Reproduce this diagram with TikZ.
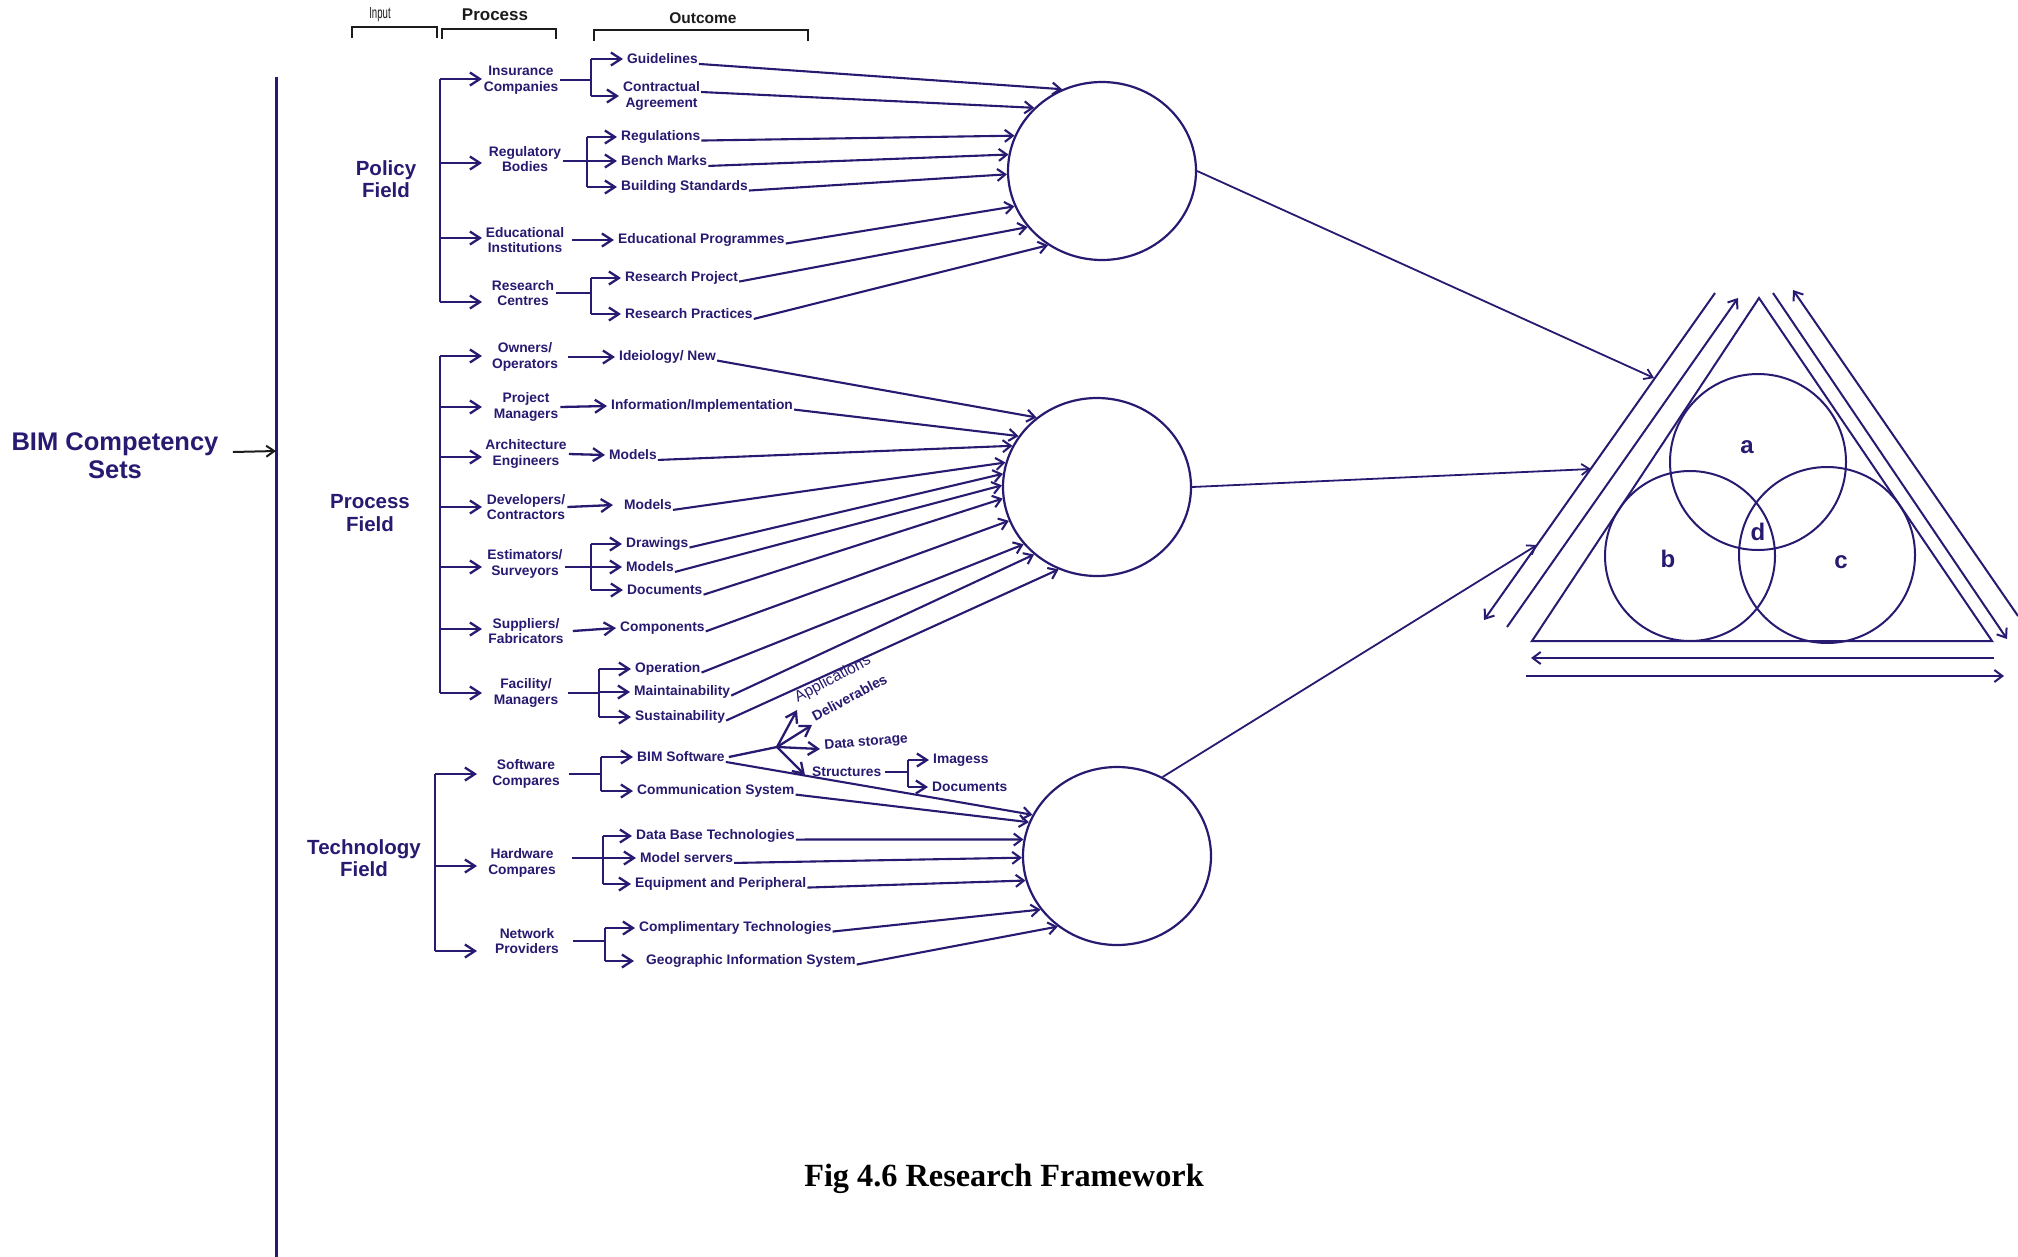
\documentclass[tikz,border=0pt]{standalone}
\usepackage{fontspec}
\setmainfont{Liberation Sans}
\newfontfamily\capfont{Liberation Serif}
\usetikzlibrary{arrows.meta,shapes.geometric,calc}
\definecolor{ink}{RGB}{40,26,112}
\definecolor{hdr}{RGB}{28,28,28}
\tikzset{
  lbl/.style={text=ink, font=\bfseries\fontsize{13.8}{15.5}\selectfont, align=center, inner xsep=2pt, inner ysep=1pt},
  outc/.style={lbl, anchor=west, inner xsep=4pt},
  field/.style={text=ink, font=\bfseries\fontsize{20.5}{22.5}\selectfont, align=center},
  wire/.style={draw=ink, line width=2.3pt},
  trunk/.style={draw=ink, line width=2.8pt},
  fwd/.style={wire, -{Straight Barb[length=10pt,width=13pt]}},
  feed/.style={draw=ink, line width=2.1pt, -{Straight Barb[length=8pt,width=12pt]}},
  hub/.style={ellipse, draw=ink, line width=2.2pt, minimum width=188pt, minimum height=178pt, inner sep=0pt},
  fine/.style={draw=ink, line width=2pt},
  finearr/.style={fine, -{Straight Barb[length=8pt,width=12pt]}},
  inarr/.style={draw=ink, line width=1.8pt, -{Straight Barb[length=8pt,width=11pt]}},
  bracket/.style={draw=hdr, line width=2pt},
  letter/.style={text=ink, font=\bfseries\fontsize{24}{24}\selectfont, inner sep=0pt},
  venn/.style={circle, draw=ink, line width=2pt, inner sep=0pt},
}
\begin{document}
\begin{tikzpicture}[x=1pt,y=-1pt]
\fill[white] (0,0) rectangle (2018,1256);
\useasboundingbox (0,0) rectangle (2018,1256);

% column headers
\node[text=hdr, font=\fontsize{16}{16}\selectfont, inner sep=0pt] (hIn) at (380,15) {\scalebox{0.6}[1]{Input}};
\node[text=hdr, font=\bfseries\fontsize{17}{17}\selectfont, inner sep=0pt] (hPr) at (495,15) {Process};
\node[text=hdr, font=\bfseries\fontsize{15.5}{15.5}\selectfont, inner sep=0pt] (hOut) at (703,18) {Outcome};
\draw[bracket] (352,38) -- (352,27) -- (437,27) -- (437,38);
\draw[bracket] (442,39) -- (442,29) -- (556,29) -- (556,39);
\draw[bracket] (594,41) -- (594,30) -- (808,30) -- (808,41);

% competency sets and spine
\node[text=ink, font=\bfseries\fontsize{25.5}{28}\selectfont, align=center] (bimset) at (115,456) {BIM Competency\\Sets};
\coordinate (sTop) at (276,77);
\coordinate (sBot) at (276,1262);
\coordinate (sIn) at (276,451);
\draw[draw=ink, line width=3pt] (sTop) -- (sBot);
\draw[draw=hdr, line width=2pt, -{Straight Barb[length=8pt,width=11pt]}] ([shift={(11,-4)}]bimset.east) -- (sIn);

% field labels
\node[field] (pol) at (386,179) {Policy\\Field};
\node[field] (prc) at (370,513) {Process\\Field};
\node[field] (tec) at (364,858) {Technology\\Field};

% hubs
\node[hub] (C1) at (1102,171) {};
\node[hub] (C2) at (1097,487) {};
\node[hub] (C3) at (1117,856) {};

%% ---------------- Policy field ----------------
\coordinate (pA) at (440,79);
\coordinate (pB) at (440,302);
\draw[trunk] (pA) -- (pB);
\node[lbl] (ins) at (521,80) {Insurance\\Companies};
\node[lbl] (reg) at (525,159) {Regulatory\\Bodies};
\node[lbl] (edu) at (525,240) {Educational\\Institutions};
\node[lbl] (rce) at (523,293) {Research\\Centres};
\draw[fwd] (440,79) -- ++(42,0);
\draw[fwd] (440,163) -- ++(42,0);
\draw[fwd] (440,238) -- ++(42,0);
\draw[fwd] (440,302) -- ++(42,0);

\node[outc] (gui) at (623,59) {Guidelines};
\node[outc] (con) at (619,96) {Contractual\\Agreement};
\node[outc] (regu) at (617,137) {Regulations};
\node[outc] (bench) at (617,161) {Bench Marks};
\node[outc] (build) at (617,187) {Building Standards};
\node[outc] (edp) at (614,240) {Educational Programmes};
\node[outc] (rpj) at (621,278) {Research Project};
\node[outc] (rpr) at (621,314) {Research Practices};

\coordinate (jI) at (591,0);
\draw[wire] (ins.east) -- (jI |- ins.east);
\draw[wire] (jI |- gui.west) -- (jI |- con.west);
\draw[fwd] (jI |- gui.west) -- (gui.west);
\draw[fwd] (jI |- con.west) -- (con.west);

\coordinate (jR) at (587,0);
\draw[wire] (reg.east |- bench.west) -- (jR |- bench.west);
\draw[wire] (jR |- regu.west) -- (jR |- build.west);
\draw[fwd] (jR |- regu.west) -- (regu.west);
\draw[fwd] (jR |- bench.west) -- (bench.west);
\draw[fwd] (jR |- build.west) -- (build.west);

\draw[fwd] ([xshift=6pt]edu.east) -- (edp.west);

\coordinate (jRc) at (591,0);
\draw[wire] (rce.east) -- (jRc |- rce.east);
\draw[wire] (jRc |- rpj.west) -- (jRc |- rpr.west);
\draw[fwd] (jRc |- rpj.west) -- (rpj.west);
\draw[fwd] (jRc |- rpr.west) -- (rpr.west);

\draw[feed] ([xshift=-3pt]gui.base east) -- (C1.116);
\draw[feed] ([shift={(-3pt,4pt)}]con.east) -- (C1.137);
\draw[feed] ([xshift=-3pt]regu.base east) -- (C1.158);
\draw[feed] ([xshift=-3pt]bench.base east) -- (C1.170);
\draw[feed] ([xshift=-3pt]build.base east) -- (C1.182);
\draw[feed] ([xshift=-3pt]edp.base east) -- (C1.202);
\draw[feed] ([xshift=-3pt]rpj.base east) -- (C1.217);
\draw[feed] ([xshift=-3pt]rpr.base east) -- (C1.234);

%% ---------------- Process field ----------------
\coordinate (pC) at (440,356);
\coordinate (pD) at (440,693);
\draw[trunk] (pC) -- (pD);
\node[lbl] (own) at (525,357) {Owners/\\Operators};
\node[lbl] (pmg) at (526,407) {Project\\Managers};
\node[lbl] (arc) at (526,454) {Architecture\\Engineers};
\node[lbl] (dvc) at (526,507) {Developers/\\Contractors};
\node[lbl] (est) at (525,564) {Estimators/\\Surveyors};
\node[lbl] (spf) at (526,631) {Suppliers/\\Fabricators};
\node[lbl] (fcm) at (526,693) {Facility/\\Managers};
\foreach \yy in {356,407,457,507,567,629,693}
  \draw[fwd] (440,\yy) -- ++(42,0);

\node[outc] (ideo) at (615,357) {Ideiology/ New};
\node[outc] (info) at (607,406) {Information/Implementation};
\node[outc] (mod1) at (605,455) {Models};
\node[outc] (mod2) at (620,505) {Models};
\node[outc] (drw) at (622,544) {Drawings};
\node[outc] (mod3) at (622,567) {Models};
\node[outc] (docs) at (623,590) {Documents};
\node[outc] (comp) at (616,628) {Components};
\node[outc] (oper) at (631,669) {Operation};
\node[outc] (mntn) at (630,692) {Maintainability};
\node[outc] (sust) at (631,717) {Sustainability};

\draw[fwd] ([xshift=8pt]own.east) -- (ideo.west);
\draw[fwd] (pmg.east) -- (info.west);
\draw[fwd] (arc.east) -- (mod1.west);
\draw[fwd] (dvc.east) -- ([xshift=-7pt]mod2.west);

\coordinate (jE) at (591,0);
\draw[wire] (est.east |- mod3.west) -- (jE |- mod3.west);
\draw[wire] (jE |- drw.west) -- (jE |- docs.west);
\draw[fwd] (jE |- drw.west) -- (drw.west);
\draw[fwd] (jE |- mod3.west) -- (mod3.west);
\draw[fwd] (jE |- docs.west) -- (docs.west);

\draw[fwd] ([xshift=7pt]spf.east) -- (comp.west);

\coordinate (jF) at (599,0);
\draw[wire] ([xshift=8pt]fcm.east) -- (jF |- fcm.east);
\draw[wire] (jF |- oper.west) -- (jF |- sust.west);
\draw[fwd] (jF |- oper.west) -- (oper.west);
\draw[fwd] (jF |- mntn.west) -- (mntn.west);
\draw[fwd] (jF |- sust.west) -- (sust.west);

\draw[feed] ([xshift=-3pt]ideo.base east) -- (C2.131);
\draw[feed] ([xshift=-3pt]info.base east) -- (C2.147);
\draw[feed] ([xshift=-3pt]mod1.base east) -- (C2.154);
\draw[feed] ([xshift=-3pt]mod2.base east) -- (C2.165);
\draw[feed] ([xshift=-3pt]drw.base east) -- (C2.172);
\draw[feed] ([xshift=-3pt]mod3.base east) -- (C2.179);
\draw[feed] ([xshift=-3pt]docs.base east) -- (C2.187);
\draw[feed] ([xshift=-3pt]comp.base east) -- (C2.201);
\draw[feed] ([xshift=-3pt]oper.base east) -- (C2.218);
\draw[feed] ([xshift=-3pt]mntn.base east) -- (C2.227);
\draw[feed] ([xshift=-3pt]sust.base east) -- (C2.245);

%% ---------------- Technology field ----------------
\coordinate (pE) at (435,774);
\coordinate (pF) at (435,951);
\draw[trunk] (pE) -- (pF);
\node[lbl] (swc) at (526,774) {Software\\Compares};
\node[lbl] (hwc) at (522,863) {Hardware\\Compares};
\node[lbl] (nwp) at (527,941) {Network\\Providers};
\foreach \yy in {774,866,951}
  \draw[fwd] (435,\yy) -- ++(42,0);

\node[outc] (bim) at (633,757) {BIM Software};
\node[outc] (comm) at (633,791) {Communication System};
\node[outc] (dbt) at (632,836) {Data Base Technologies};
\node[outc] (msv) at (636,858) {Model servers};
\node[outc] (eqp) at (631,884) {Equipment and Peripheral};
\node[outc] (cpt) at (635,928) {Complimentary Technologies};
\node[outc] (geo) at (642,961) {Geographic Information System};

\coordinate (jS) at (601,0);
\draw[wire] ([xshift=7pt]swc.east) -- (jS |- swc.east);
\draw[wire] (jS |- bim.west) -- (jS |- comm.west);
\draw[fwd] (jS |- bim.west) -- (bim.west);
\draw[fwd] (jS |- comm.west) -- (comm.west);

\coordinate (jH) at (603,0);
\draw[wire] ([xshift=14pt]hwc.east |- msv.west) -- (jH |- msv.west);
\draw[wire] (jH |- dbt.west) -- (jH |- eqp.west);
\draw[fwd] (jH |- dbt.west) -- (dbt.west);
\draw[fwd] (jH |- msv.west) -- (msv.west);
\draw[fwd] (jH |- eqp.west) -- (eqp.west);

\coordinate (jN) at (605,0);
\draw[wire] ([xshift=12pt]nwp.east) -- (jN |- nwp.east);
\draw[wire] (jN |- cpt.west) -- (jN |- geo.west);
\draw[fwd] (jN |- cpt.west) -- (cpt.west);
\draw[fwd] (jN |- geo.west) -- ([xshift=-8pt]geo.west);

% BIM software outputs
\coordinate (bp) at (777,747);
\coordinate (tApp) at (797,710);
\coordinate (tDel) at (812,725);
\coordinate (tDs) at (820,749);
\coordinate (tStr) at (805,775);
\draw[wire] (bim.east) -- (bp);
\draw[fwd] (bp) -- (tApp);
\draw[fwd] (bp) -- (tDel);
\draw[fwd] (bp) -- (tDs);
\draw[fwd] (bp) -- (tStr);
\node[text=ink, font=\fontsize{15.5}{15.5}\selectfont, rotate=28, anchor=south west, inner sep=1pt] (app) at (799,707) {Applications};
\node[text=ink, font=\bfseries\fontsize{14}{14}\selectfont, rotate=28, anchor=south west, inner sep=1pt] (dlv) at (815,723) {Deliverables};
\node[text=ink, font=\bfseries\fontsize{13.8}{14}\selectfont, rotate=5, anchor=south west, inner sep=1pt] (dst) at (824,754) {Data storage};
\node[outc] (str) at (808,772) {Structures};

\coordinate (jT) at (908,0);
\node[outc] (img) at (929,760) {Imagess};
\node[outc] (sdoc) at (928,787) {Documents};
\draw[wire] (str.east) -- (jT |- str.east);
\draw[wire] (jT |- img.west) -- (jT |- sdoc.west);
\draw[fwd] (jT |- img.west) -- (img.west);
\draw[fwd] (jT |- sdoc.west) -- (sdoc.west);

\draw[feed] ([xshift=-3pt]bim.base east) -- (C3.154);
\draw[feed] ([xshift=-3pt]comm.base east) -- (C3.159);
\draw[feed] ([xshift=-3pt]dbt.base east) -- (C3.170);
\draw[feed] ([xshift=-3pt]msv.base east) -- (C3.181);
\draw[feed] ([xshift=-3pt]eqp.base east) -- (C3.195);
\draw[feed] ([xshift=-3pt]cpt.base east) -- (C3.215);
\draw[feed] ([xshift=-3pt]geo.base east) -- (C3.230);

%% ---------------- Triangle of competency sets ----------------
\coordinate (tA) at (1759,298);
\coordinate (tB) at (1532,641);
\coordinate (tC) at (1992,641);
\draw[fine, line join=miter] (tA) -- (tB) -- (tC) -- cycle;

\coordinate (lo1) at (1715,293); \coordinate (lo2) at (1484,620);
\coordinate (li1) at (1507,627); \coordinate (li2) at (1738,298);
\coordinate (ri1) at (1773,293); \coordinate (ri2) at (2007,639);
\coordinate (ro1) at (2018,616); \coordinate (ro2) at (1793,290);
\coordinate (bo1) at (1994,658); \coordinate (bo2) at (1531,658);
\coordinate (bo3) at (1526,676); \coordinate (bo4) at (2004,676);
\draw[finearr] (lo1) -- (lo2);
\draw[finearr] (li1) -- (li2);
\draw[finearr] (ri1) -- (ri2);
\draw[finearr] (ro1) -- (ro2);
\draw[finearr] (bo1) -- (bo2);
\draw[finearr] (bo3) -- (bo4);

\node[venn, minimum size=176pt] (va) at (1758,462) {};
\node[venn, minimum size=170pt] (vb) at (1690,556) {};
\node[venn, minimum size=176pt] (vc) at (1827,555) {};
\node[letter] (la) at (1747,447) {a};
\node[letter] (lb) at (1668,559) {b};
\node[letter] (lc) at (1841,562) {c};
\node[letter] (ld) at (1758,532) {d};

\coordinate (tin1) at (1654,378);
\coordinate (tin2) at (1591,469);
\coordinate (tin3) at (1537,545);
\draw[inarr] (C1.east) -- (tin1);
\draw[inarr] (C2.east) -- (tin2);
\draw[inarr] (C3.60) -- (tin3);

% caption
\node[text=black, font=\capfont\bfseries\fontsize{32.3}{34}\selectfont, inner sep=0pt] (cap) at (1004,1179) {Fig 4.6 Research Framework};
\end{tikzpicture}
\end{document}
